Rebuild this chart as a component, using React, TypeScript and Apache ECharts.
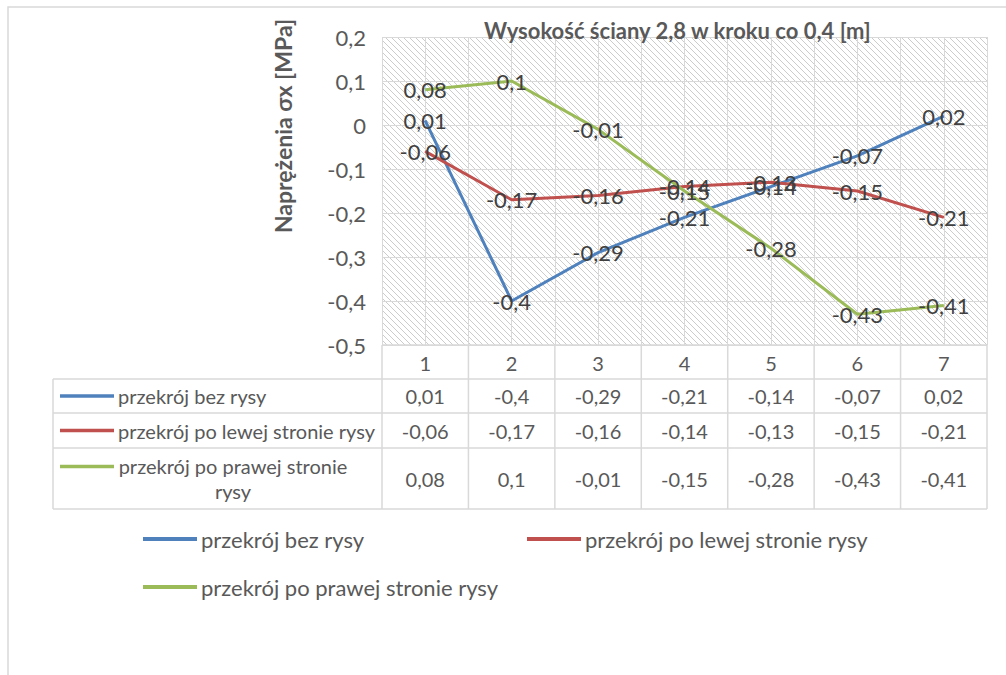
import React, { useEffect, useRef } from "react";
import * as echarts from "echarts";

const categories = [1, 2, 3, 4, 5, 6, 7];
const seriesNames = [
  "przekrój bez rysy",
  "przekrój po lewej stronie rysy",
  "przekrój po prawej stronie rysy",
];
const bezRysy = [0.01, -0.4, -0.29, -0.21, -0.14, -0.07, 0.02];
const lewaStrona = [-0.06, -0.17, -0.16, -0.14, -0.13, -0.15, -0.21];
const prawaStrona = [0.08, 0.1, -0.01, -0.15, -0.28, -0.43, -0.41];
const seriesValues = [bezRysy, lewaStrona, prawaStrona];
const tableRowLabels = [
  "przekrój bez rysy",
  "przekrój po lewej stronie rysy",
  "przekrój po prawej stronie\nrysy",
];
const colors = ["#4F81BD", "#C0504D", "#9BBB59"];
const titleText = "Wysokość ściany 2,8 w kroku co 0,4 [m]";
const yAxisName = "Naprężenia σx [MPa]";
const yMin = -0.5;
const yMax = 0.2;
const yStep = 0.1;

const FONT = "Lato";
const GRID_L = 382;
const GRID_R = 987;
const GRID_T = 37;
const GRID_B = 345;
const ROWS = [379, 413, 448, 509];
const TABLE_L = 53;
const LINE_C = "#d9d9d9";

const fmt = (v: number) => String(Math.round(v * 100) / 100).replace(".", ",");

export default function App() {
  const ref = useRef<HTMLDivElement>(null);
  useEffect(() => {
    if (!ref.current) return;
    const chart = echarts.init(ref.current, undefined, { renderer: "svg" });

    const cv = document.createElement("canvas");
    const s = 6;
    cv.width = s;
    cv.height = s;
    const ctx = cv.getContext("2d")!;
    ctx.fillStyle = "#ffffff";
    ctx.fillRect(0, 0, s, s);
    ctx.strokeStyle = "#cccccc";
    ctx.lineWidth = 1;
    ctx.beginPath();
    for (const k of [-1, 0, 1]) {
      ctx.moveTo(k * s, 0);
      ctx.lineTo(k * s + s, s);
    }
    ctx.stroke();

    const colW = (GRID_R - GRID_L) / categories.length;
    const g: any[] = [];
    g.push({
      type: "rect",
      shape: { x: 8, y: 7, width: 1200, height: 900 },
      style: { fill: "none", stroke: "#d9d9d9", lineWidth: 1.5 },
      silent: true,
    });
    g.push({
      type: "text",
      x: 283,
      y: 126,
      rotation: Math.PI / 2,
      style: {
        text: yAxisName,
        fill: "#595959",
        font: `bold 23px ${FONT}`,
        align: "center",
        verticalAlign: "middle",
      },
    });
    const hl = (x1: number, x2: number, y: number) =>
      g.push({ type: "line", shape: { x1, y1: y, x2, y2: y }, style: { stroke: LINE_C, lineWidth: 1.5 }, z: 10 });
    const vl = (x: number, y1: number, y2: number) =>
      g.push({ type: "line", shape: { x1: x, y1, x2: x, y2 }, style: { stroke: LINE_C, lineWidth: 1.5 }, z: 10 });
    hl(GRID_L, GRID_R, GRID_B);
    ROWS.forEach((y) => hl(TABLE_L, GRID_R, y));
    vl(TABLE_L, ROWS[0], ROWS[3]);
    for (let i = 0; i <= categories.length; i++) vl(GRID_L + colW * i, GRID_B, ROWS[3]);
    categories.forEach((c, i) => {
      g.push({
        type: "text",
        x: GRID_L + colW * (i + 0.5),
        y: (GRID_B + ROWS[0]) / 2 + 1,
        style: { text: String(c), fill: "#595959", font: `20px ${FONT}`, align: "center", verticalAlign: "middle" },
      });
    });
    seriesValues.forEach((vals, r) => {
      const yTop = ROWS[r];
      const yBot = ROWS[r + 1];
      const yc = (yTop + yBot) / 2;
      const keyY = r === 2 ? yc - 12 : yc;
      g.push({
        type: "line",
        shape: { x1: 60, y1: keyY, x2: 114, y2: keyY },
        style: { stroke: colors[r], lineWidth: 3.5 },
      });
      if (r === 2) {
        g.push({
          type: "text",
          x: 233,
          y: yc,
          style: {
            text: tableRowLabels[r],
            fill: "#595959",
            font: `20px ${FONT}`,
            align: "center",
            verticalAlign: "middle",
            lineHeight: 25,
          },
        });
      } else {
        g.push({
          type: "text",
          x: 118,
          y: yc,
          style: { text: tableRowLabels[r], fill: "#595959", font: `20px ${FONT}`, align: "left", verticalAlign: "middle" },
        });
      }
      vals.forEach((v, i) => {
        g.push({
          type: "text",
          x: GRID_L + colW * (i + 0.5),
          y: yc,
          style: { text: fmt(v), fill: "#595959", font: `20px ${FONT}`, align: "center", verticalAlign: "middle" },
        });
      });
    });

    const legendBase = {
      icon: "rect",
      itemWidth: 54,
      itemHeight: 4,
      itemGap: 0,
      padding: 0,
      textStyle: { color: "#595959", fontSize: 22, fontFamily: FONT, padding: [0, 0, 0, -1] },
    };

    chart.setOption({
      animation: false,
      backgroundColor: "#ffffff",
      title: {
        text: titleText,
        left: 484,
        top: 19,
        padding: 0,
        textStyle: { color: "#595959", fontSize: 22, fontWeight: "bold", fontFamily: FONT },
      },
      legend: [
        { ...legendBase, data: [seriesNames[0]], left: 143, top: 528 },
        { ...legendBase, data: [seriesNames[1]], left: 527, top: 528 },
        { ...legendBase, data: [seriesNames[2]], left: 143, top: 576 },
      ],
      grid: {
        left: GRID_L,
        right: 1006 - GRID_R,
        top: GRID_T,
        bottom: 675 - GRID_B,
        show: true,
        borderWidth: 0,
        backgroundColor: { image: cv, repeat: "repeat" },
      },
      xAxis: {
        type: "value",
        min: categories[0] - 0.5,
        max: categories[categories.length - 1] + 0.5,
        interval: 0.5,
        axisLabel: { show: false },
        axisTick: { show: false },
        axisLine: { show: false },
        splitLine: { show: true, lineStyle: { color: LINE_C, width: 1 } },
      },
      yAxis: {
        type: "value",
        min: yMin,
        max: yMax,
        interval: yStep,
        axisLine: { show: false },
        axisTick: { show: false },
        splitLine: { show: true, lineStyle: { color: LINE_C, width: 1 } },
        axisLabel: {
          color: "#595959",
          fontSize: 22,
          fontFamily: FONT,
          margin: 16,
          formatter: (v: number) => fmt(Math.round(v * 10) / 10),
        },
      },
      series: seriesValues.map((vals, r) => ({
        name: seriesNames[r],
        type: "line",
        data: vals.map((v, i) => [categories[i], v]),
        symbol: "circle",
        symbolSize: 1,
        showSymbol: true,
        color: colors[r],
        lineStyle: { color: colors[r], width: 3 },
        itemStyle: { color: colors[r] },
        label: {
          show: true,
          position: "inside",
          color: "#404040",
          fontSize: 22,
          fontFamily: FONT,
          formatter: (p: any) => fmt(p.value[1]),
        },
        emphasis: { disabled: true },
        z: 3,
      })),
      graphic: g,
    });
    return () => chart.dispose();
  }, []);
  return (
    <div
      ref={ref}
      style={{ position: "fixed", left: 0, top: 0, width: 1006, height: 675, background: "#fff" }}
    />
  );
}
